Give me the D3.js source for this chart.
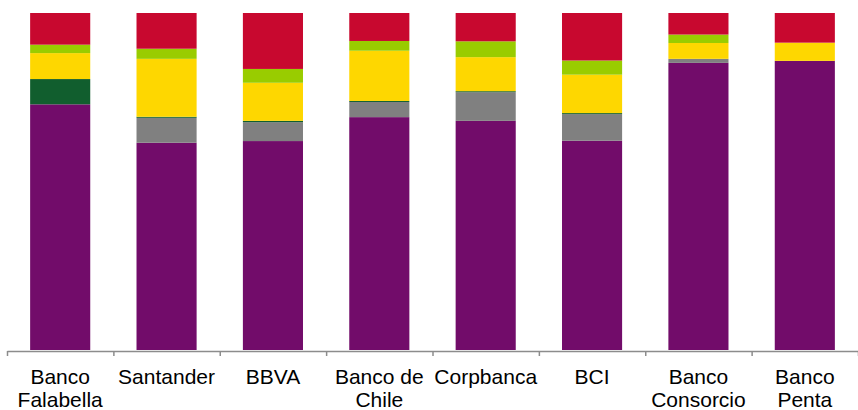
<!DOCTYPE html>
<html>
<head>
<meta charset="utf-8">
<script src="https://cdn.jsdelivr.net/npm/d3@7"></script>
<style>
  body { margin: 0; background: #fff; }
  svg { display: block; font-family: "Liberation Sans", Arial, sans-serif; }
</style>
</head>
<body>
<script>
// bancos (categorias)
var banks = ["Banco Falabella", "Santander", "BBVA", "Banco de Chile", "Corpbanca", "BCI", "Banco Consorcio", "Banco Penta"]
var bankLines = [["Banco", "Falabella"], ["Santander"], ["BBVA"], ["Banco de", "Chile"], ["Corpbanca"], ["BCI"], ["Banco", "Consorcio"], ["Banco", "Penta"]]

// composicion en % (de abajo hacia arriba)
var serie1 = [72.9, 61.5, 62.0, 69.1, 68.0, 62.1, 85.2, 85.8]
var serie2 = [0.0, 7.4, 5.6, 4.5, 8.5, 7.9, 1.2, 0.0]
var serie3 = [7.5, 0.3, 0.4, 0.3, 0.3, 0.3, 0.0, 0.0]
var serie4 = [7.7, 17.2, 11.3, 14.9, 10.1, 11.4, 4.7, 5.4]
var serie5 = [2.5, 3.0, 4.1, 2.9, 4.7, 4.2, 2.5, 0.0]
var serie6 = [9.4, 10.6, 16.6, 8.3, 8.4, 14.1, 6.4, 8.8]

var keys = ["serie1", "serie2", "serie3", "serie4", "serie5", "serie6"]
var colors = ["#720c6a", "#808080", "#115e2e", "#fed700", "#99cc00", "#c8082f"]

var w = 858
var h = 410
var plotTop = 13, plotBottom = 350, plotLeft = 7, plotRight = 858

var table = banks.map(function (b, i) {
    return {bank: b, serie1: serie1[i], serie2: serie2[i], serie3: serie3[i],
        serie4: serie4[i], serie5: serie5[i], serie6: serie6[i]}
})

var stacked = d3.stack().keys(keys).offset(d3.stackOffsetExpand)(table)

var xScale = d3.scaleBand().domain(banks).range([plotLeft, plotRight])
    .paddingInner(0.435).paddingOuter(0.2175)
var yScale = d3.scaleLinear().domain([0, 1]).range([plotBottom, plotTop])
var tickScale = d3.scaleLinear().domain([0, banks.length]).range([plotLeft, plotRight])

var svg = d3.select("body").append("svg")
    .attr("width", w)
    .attr("height", h)

svg.selectAll("g.serie").data(stacked).enter()
    .append("g")
    .attr("class", "serie")
    .attr("fill", function (d, i) { return colors[i] })
    .selectAll("rect").data(function (d) { return d }).enter()
    .append("rect")
    .attr("x", function (d) { return xScale(d.data.bank) })
    .attr("width", xScale.bandwidth())
    .attr("y", function (d) { return yScale(d[1]) })
    .attr("height", function (d) { return yScale(d[0]) - yScale(d[1]) })

var xAxis = d3.axisBottom(tickScale)
    .tickValues(d3.range(0, banks.length + 1))
    .tickFormat("")
    .tickSizeInner(5)
    .tickSizeOuter(0)

var gAxis = svg.append("g")
    .attr("class", "axis")
    .attr("transform", "translate(0," + (plotBottom + 1) + ")")
    .call(xAxis)
gAxis.select(".domain").attr("stroke", "#8c8c8c").attr("stroke-width", 1.5)
gAxis.selectAll(".tick line").attr("stroke", "#8c8c8c").attr("stroke-width", 1.5)

svg.append("g").selectAll("text").data(banks).enter()
    .append("text")
    .attr("text-anchor", "middle")
    .attr("font-size", "21px")
    .attr("fill", "#000")
    .attr("transform", function (d) {
        return "translate(" + (xScale(d) + xScale.bandwidth() / 2) + ",384)"
    })
    .selectAll("tspan").data(function (d, i) { return bankLines[i] }).enter()
    .append("tspan")
    .attr("x", 0)
    .attr("y", function (d, i) { return i * 23 })
    .text(function (d) { return d })
</script>
</body>
</html>
